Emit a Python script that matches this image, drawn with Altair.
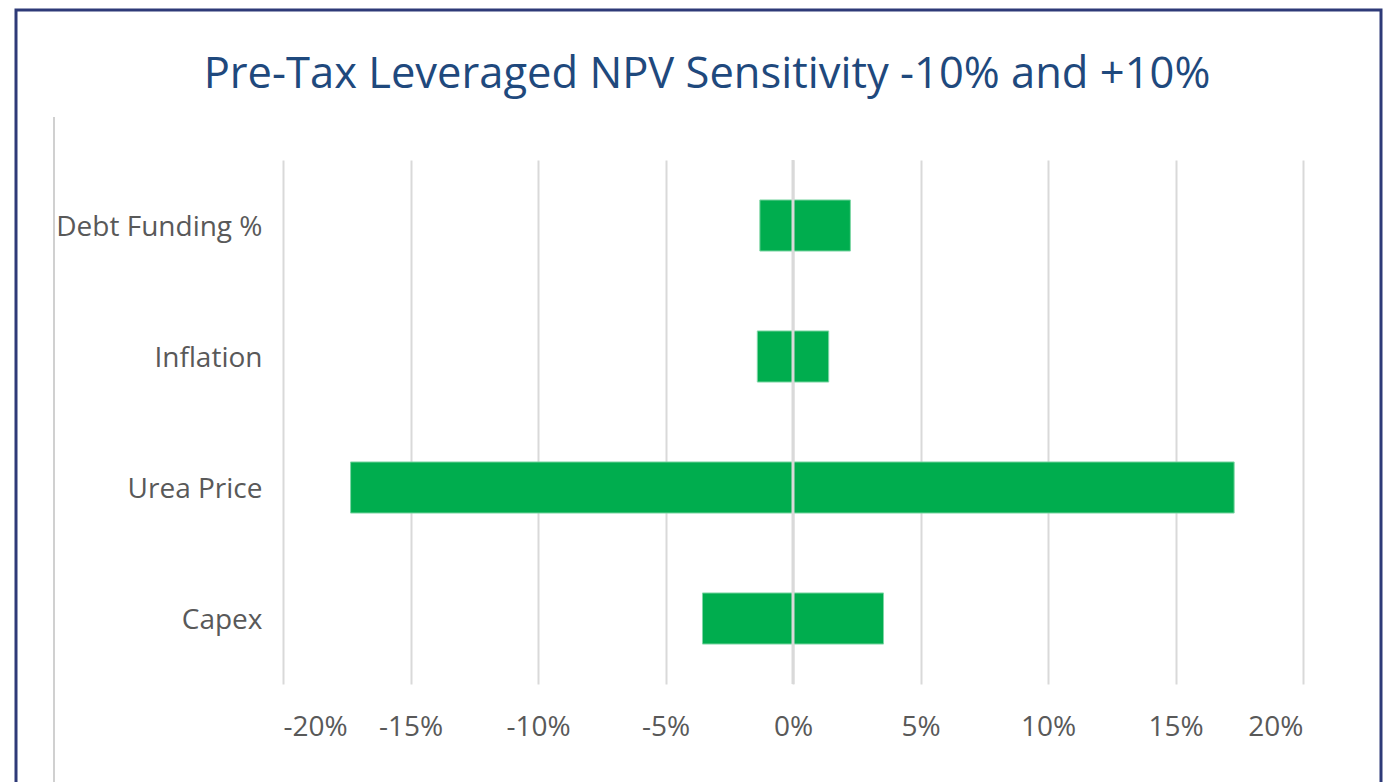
import altair as alt
import pandas as pd

categories = ["Debt Funding %", "Inflation", "Urea Price", "Capex"]
low_values = [-1.3, -1.4, -17.35, -3.55]
high_values = [2.25, 1.4, 17.3, 3.55]
tick_values = [-20, -15, -10, -5, 0, 5, 10, 15, 20]

df = pd.DataFrame({"category": categories, "low": low_values, "high": high_values})

FONT = "Open Sans"
GREEN = "#00ad4e"

xscale = alt.Scale(domain=[-20, 20], nice=False)
yscale = alt.Scale(domain=categories, paddingInner=0.61, paddingOuter=0.305)

bars = alt.Chart(df).mark_bar(color=GREEN, stroke="#7fd6a6", strokeWidth=1).encode(
    x=alt.X("low:Q", scale=xscale,
            axis=alt.Axis(values=tick_values, labelExpr="datum.value + '%'",
                          title=None, domain=False, ticks=False,
                          grid=True, gridColor="#d9d9d9", gridWidth=2,
                          labelFont=FONT, labelFontSize=28, labelColor="#595959",
                          labelPadding=29)),
    x2="high:Q",
    y=alt.Y("category:N", scale=yscale, sort=categories,
            axis=alt.Axis(title=None, domain=False, ticks=False, grid=False,
                          labelFont=FONT, labelFontSize=28, labelColor="#595959",
                          labelPadding=21, labelLimit=400, labelOffset=2)),
)

zero = alt.Chart(pd.DataFrame({"z": [0]})).mark_rule(color="#d9d9d9", strokeWidth=3).encode(
    x=alt.X("z:Q", scale=xscale)
)

border = alt.Chart(pd.DataFrame({"a": [0]})).mark_rect(
    fill=None, stroke="#2e3a78", strokeWidth=3
).encode(
    x=alt.value(-267), x2=alt.value(1098), y=alt.value(-150), y2=alt.value(700)
)

vline = alt.Chart(pd.DataFrame({"a": [0]})).mark_rule(color="#c0c0c0", strokeWidth=1.5).encode(
    x=alt.value(-229), y=alt.value(-43), y2=alt.value(700)
)

chart = alt.layer(border, vline, bars, zero).properties(
    width=1020,
    height=524,
    background="white",
    title=alt.TitleParams(
        "Pre-Tax Leveraged NPV Sensitivity -10% and +10%",
        font=FONT, fontSize=43.5, fontWeight="normal", color="#1f497d",
        anchor="middle", dx=-86, offset=-89,
    ),
    padding={"left": 275, "top": 152, "right": 80, "bottom": 98},
    autosize=alt.AutoSizeParams(type="none"),
).configure_view(strokeWidth=0, stroke="transparent")

chart.save("out.html", embed_options={"renderer": "svg", "actions": False})
